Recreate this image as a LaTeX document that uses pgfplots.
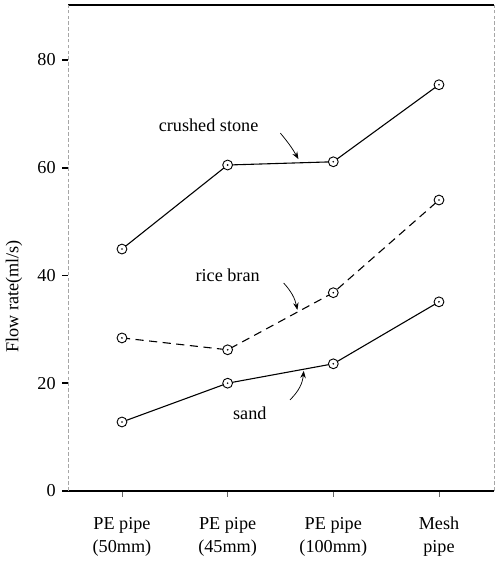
\documentclass[border=0pt]{standalone}
\usepackage{fontspec}
\setmainfont{Liberation Serif}
\usepackage{pgfplots}
\pgfplotsset{compat=1.18}
\usetikzlibrary{arrows.meta}

% circle with a dot in it
\pgfdeclareplotmark{odot}{%
  \pgfpathcircle{\pgfpointorigin}{\pgfplotmarksize}%
  \pgfusepathqfillstroke
  \begin{pgfscope}%
  \pgfsetfillcolor{black}%
  \pgfpathcircle{\pgfpointorigin}{0.5pt}%
  \pgfusepathqfill
  \end{pgfscope}}

\pgfplotstableread{
x  stone  bran  sand
0  44.9   28.4  12.8
1  60.5   26.2  20.0
2  61.1   36.8  23.6
3  75.4   54.0  35.1
}\flowdata

\begin{document}
\begin{tikzpicture}[font=\fontsize{10}{12.7}\selectfont]
\begin{axis}[
  scale only axis, width=234pt, height=267pt,
  xmin=-0.51, xmax=3.52, ymin=0, ymax=90.2,
  separate axis lines,
  x axis line style={black, line width=0.9pt},
  y axis line style={gray!70, line width=0.4pt, dash pattern=on 2pt off 1.2pt},
  xtick={0,1,2,3},
  xticklabels={{PE pipe\\(50mm)},{PE pipe\\(45mm)},{PE pipe\\(100mm)},{Mesh\\pipe}},
  x tick label style={align=center, yshift=-7.5pt},
  ytick={0,20,40,60,80},
  tick pos=left, tick align=outside,
  ytick style={black, line width=0.9pt},
  xtick style={black!60, line width=0.4pt},
  major tick length=3.3pt,
  /pgf/number format/assume math mode=true,
  ylabel={Flow rate(ml/s)},
  ylabel style={at={(axis description cs:-0.127,0.40)}, anchor=center},
  every axis plot/.append style={black, line width=0.6pt},
  mark size=2.7pt,
  mark options={solid, fill=white, line width=0.5pt},
  clip=false,
]
\addplot[mark=odot] table[x=x, y=stone] {\flowdata};
\addplot[mark=odot, dash pattern=on 4.5pt off 3pt] table[x=x, y=bran] {\flowdata};
\addplot[mark=odot] table[x=x, y=sand] {\flowdata};

\node at (axis cs:0.82,67.9) {crushed stone};
\draw[-{Stealth[length=4pt,width=3pt]}, line width=0.4pt] (axis cs:1.50,66.4) to[bend left=5] (axis cs:1.67,61.6);
\node at (axis cs:1.00,40.1) {rice bran};
\draw[-{Stealth[length=4pt,width=3pt]}, line width=0.4pt] (axis cs:1.53,38.6) to[bend left=15] (axis cs:1.66,33.6);
\node at (axis cs:1.21,14.5) {sand};
\draw[-{Stealth[length=4pt,width=3pt]}, line width=0.4pt] (axis cs:1.59,16.9) to[bend right=20] (axis cs:1.72,22.3);
\end{axis}
\pgfresetboundingbox
\path ([xshift=-37.4pt,yshift=-38.5pt]current axis.south west) rectangle ([xshift=0.3pt,yshift=2.75pt]current axis.north east);
\end{tikzpicture}
\end{document}
